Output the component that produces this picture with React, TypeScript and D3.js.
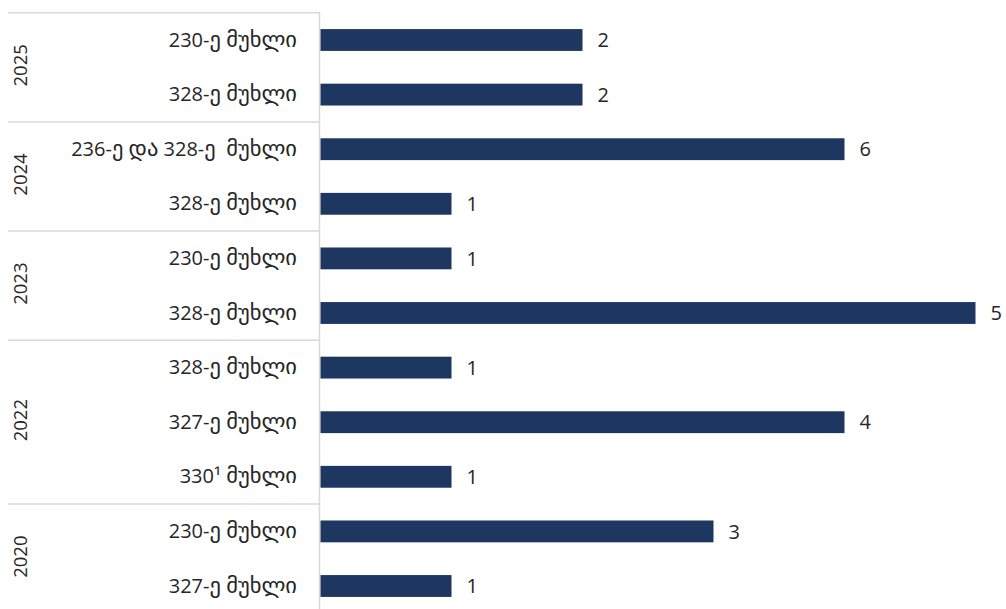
import React, { useEffect } from "react";
import * as d3 from "d3";

const years = ["2025", "2025", "2024", "2024", "2023", "2023", "2022", "2022", "2022", "2020", "2020"];
const articles = [
  "230-ე მუხლი",
  "328-ე მუხლი",
  "236-ე და 328-ე  მუხლი",
  "328-ე მუხლი",
  "230-ე მუხლი",
  "328-ე მუხლი",
  "328-ე მუხლი",
  "327-ე მუხლი",
  "330¹ მუხლი",
  "230-ე მუხლი",
  "327-ე მუხლი",
];
// bar lengths as drawn in the reference
const values = [2, 2, 4, 1, 1, 5, 1, 4, 1, 3, 1];
// data labels as printed in the reference
const valueLabels = ["2", "2", "6", "1", "1", "5", "1", "4", "1", "3", "1"];

const W = 1006;
const H = 609;
const FONT = "'Open Sans', 'DejaVu Sans', sans-serif";
const GEO_FONT = "'DejaVu Sans', sans-serif";

// split text into Georgian / non-Georgian runs
function runs(s: string): { geo: boolean; t: string }[] {
  const out: { geo: boolean; t: string }[] = [];
  for (const ch of s) {
    const geo = /[\u10A0-\u10FF]/.test(ch);
    const last = out[out.length - 1];
    if (last && last.geo === geo) last.t += ch;
    else out.push({ geo, t: ch });
  }
  return out;
}

export default function App() {
  useEffect(() => {
    document.body.style.margin = "0";
  }, []);

  const idx = values.map((_, i) => i);
  const y = d3
    .scaleBand<number>()
    .domain(idx)
    .range([12.7, 613.3])
    .paddingInner(0.6)
    .paddingOuter(0.3);
  const x = d3.scaleLinear().domain([0, 5]).range([320.5, 975.5]);

  const groups: { year: string; start: number; end: number }[] = [];
  years.forEach((yr, i) => {
    const last = groups[groups.length - 1];
    if (last && last.year === yr) last.end = i;
    else groups.push({ year: yr, start: i, end: i });
  });
  const step = y.step();
  const top = (i: number) => (y(i) as number) + y.bandwidth() / 2 - step / 2;
  const bottom = (i: number) => (y(i) as number) + y.bandwidth() / 2 + step / 2;

  return (
    <svg width={W} height={H} style={{ display: "block", background: "#fff" }} fontFamily={FONT}>
      {groups.map((g, k) => (
        <line key={"s" + k} x1={8} x2={320} y1={top(g.start)} y2={top(g.start)} stroke="#d9d9d9" strokeWidth={1.5} />
      ))}
      <line x1={8} x2={320} y1={bottom(idx.length - 1)} y2={bottom(idx.length - 1)} stroke="#d9d9d9" strokeWidth={1.5} />
      <line x1={319.5} x2={319.5} y1={top(0)} y2={H} stroke="#d9d9d9" strokeWidth={1.5} />

      {idx.map((i) => (
        <rect
          key={"b" + i}
          x={x(0)}
          y={y(i)}
          width={x(values[i]) - x(0)}
          height={y.bandwidth()}
          fill="#1d3761"
        />
      ))}

      {idx.map((i) => (
        <text
          key={"v" + i}
          x={x(values[i]) + 15}
          y={(y(i) as number) + y.bandwidth() / 2}
          dy="0.36em"
          fontSize={20}
          fill="#262626"
        >
          {valueLabels[i]}
        </text>
      ))}

      {idx.map((i) => (
        <text
          key={"c" + i}
          x={297}
          y={(y(i) as number) + y.bandwidth() / 2}
          dy="6.5"
          fontSize={20}
          textAnchor="end"
          fill="#262626"
          style={{ whiteSpace: "pre" }}
        >
          {runs(articles[i]).map((r, j) =>
            r.geo ? (
              <tspan key={j} fontFamily={GEO_FONT} fontSize={22.5}>
                {r.t}
              </tspan>
            ) : (
              <tspan key={j}>{r.t}</tspan>
            )
          )}
        </text>
      ))}

      {groups.map((g, k) => {
        const cy = (top(g.start) + bottom(g.end)) / 2 - 2;
        return (
          <text
            key={"y" + k}
            transform={`translate(27,${cy}) rotate(-90)`}
            textAnchor="middle"
            fontSize={18.5}
            fill="#262626"
          >
            {g.year}
          </text>
        );
      })}
    </svg>
  );
}
